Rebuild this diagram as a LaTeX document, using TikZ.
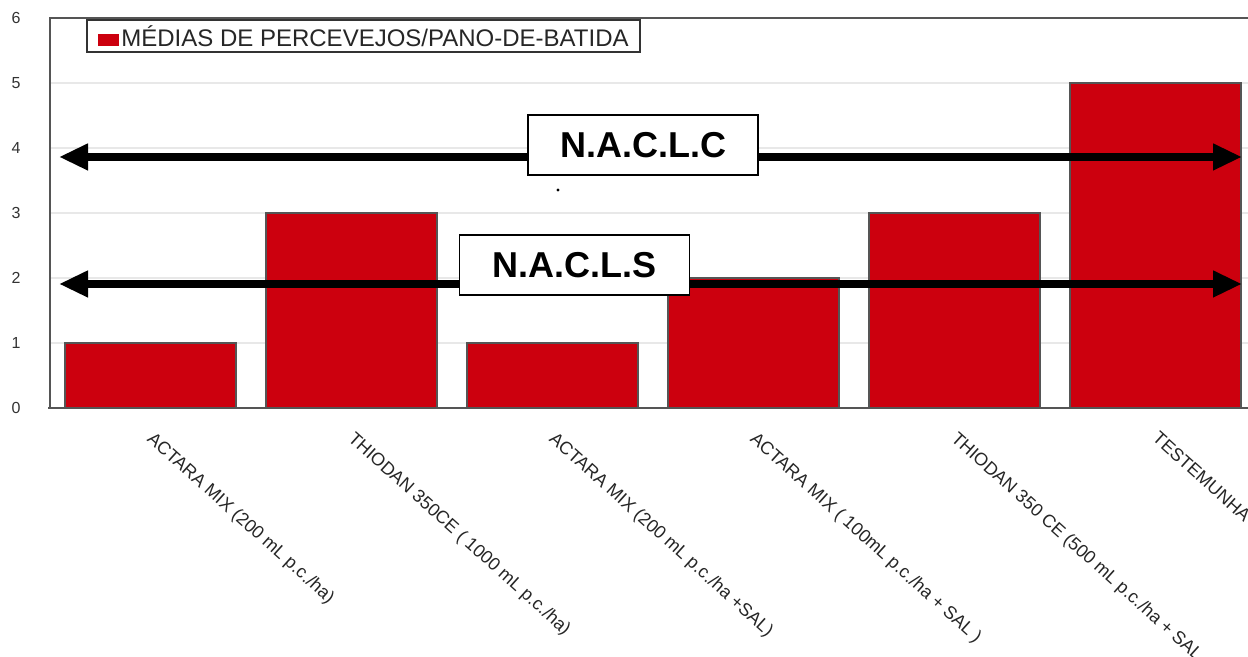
\documentclass[tikz,border=0pt]{standalone}
\usepackage{fontspec}
\setmainfont{Liberation Sans}
\usepackage{tikz}
\usetikzlibrary{arrows.meta,calc}
\definecolor{barred}{RGB}{204,0,14}
\definecolor{gridgray}{RGB}{232,232,232}
\definecolor{axisgray}{RGB}{85,85,85}

\begin{document}
\begin{tikzpicture}[x=0.5pt,y=32.5pt,
    barbox/.style={fill=barred,draw=axisgray,line width=0.6pt},
    ticklabel/.style={text=black!80,font=\fontsize{8}{9}\selectfont},
    catlabel/.style={anchor=north west,rotate=-42,inner sep=0pt,text=black!85,font=\fontsize{9}{11}\selectfont},
    levelbox/.style={draw=black,line width=0.8pt,fill=white,font=\bfseries\fontsize{18}{20}\selectfont,minimum width=115pt,minimum height=30pt,inner sep=0pt},
    levelarrow/.style={line width=4pt,{Triangle[length=14.5pt,width=12.5pt]}-{Triangle[length=14.5pt,width=12.5pt]}}]
            \fill[white] (0,-3.8308) rectangle (1248,6.2769);
            \useasboundingbox (0,-3.8308) rectangle (1248,6.2769);

            % grid and frame
            \foreach \v in {1,...,5}
                \draw[gridgray,line width=0.6pt] (50,\v) -- (1248,\v);
            \draw[axisgray,line width=0.8pt] (50,0) -- (50,6) -- (1248,6);
            \foreach \v in {0,...,6}
                \node (tick\v) at (16,\v) [ticklabel] {\v};

            % bars
            \foreach \i/\h in {0/1,1/3,2/1,3/2,4/3,5/5}
                \draw[barbox] ({65+201*\i},0) rectangle ++(171,\h);
            \draw[axisgray,line width=0.8pt] (48,0) -- (1248,0);

            % legend
            \node (legend) at (363.5,5.723) [draw=black!80,line width=0.6pt,fill=white,minimum width=276.5pt,minimum height=16pt,inner sep=0pt,font=\fontsize{12}{14}\selectfont,text=black!85]
                {\textcolor{barred}{\rule{10.5pt}{6pt}}\hspace{1pt}MÉDIAS DE PERCEVEJOS/PANO-DE-BATIDA};

            % level lines
            \coordinate (lcW) at (59,3.862);
            \coordinate (lcE) at (1242,3.862);
            \coordinate (lsW) at (59,1.908);
            \coordinate (lsE) at (1242,1.908);
            \draw[levelarrow] (lcW) -- (lcE);
            \draw[levelarrow] (lsW) -- (lsE);
            \node (naclc) at (643,4.046) [levelbox] {N.A.C.L.C\hspace{2pt}};
            \node (nacls) at (574.5,2.2) [levelbox] {N.A.C.L.S\hspace{10pt}};
            \fill (558,3.354) circle (0.8pt);

            % category labels
            \node (cat1) at (155,-0.34) [catlabel] {ACTARA MIX (200 mL p.c./ha)};
            \node (cat2) at (356,-0.34) [catlabel] {THIODAN 350CE ( 1000 mL p.c./ha)};
            \node (cat3) at (557,-0.34) [catlabel] {ACTARA MIX (200 mL p.c./ha +SAL)};
            \node (cat4) at (758,-0.34) [catlabel] {ACTARA MIX ( 100mL p.c./ha + SAL )};
            \node (cat5) at (959,-0.34) [catlabel] {THIODAN 350 CE (500 mL p.c./ha + SAL};
            \node (cat6) at (1160,-0.34) [catlabel] {TESTEMUNHA};
        \end{tikzpicture}
\end{document}
